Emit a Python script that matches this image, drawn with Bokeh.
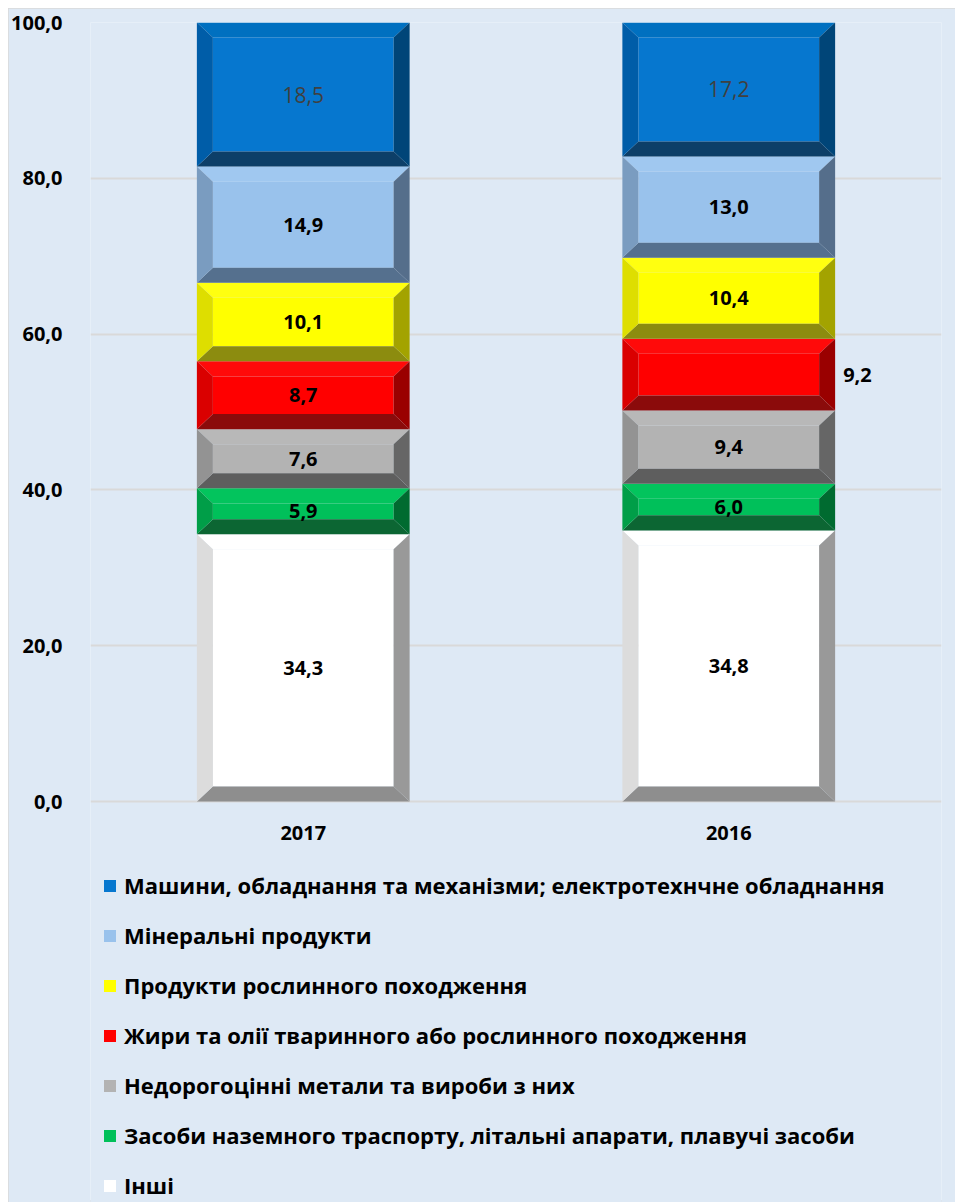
from bokeh.plotting import figure
from bokeh.models import Range1d, FixedTicker, Legend, LegendItem
from bokeh.core.properties import value
from bokeh.embed import file_html
from bokeh.resources import INLINE

# ---------------- data ----------------
years = ["2017", "2016"]
# stack order, bottom to top
series_names = [
    "Інші",
    "Засоби наземного траспорту, літальні апарати, плавучі засоби",
    "Недорогоцінні метали та вироби з них",
    "Жири та олії тваринного або рослинного походження",
    "Продукти рослинного походження",
    "Мінеральні продукти",
    "Машини, обладнання та механізми; електротехнчне обладнання",
]
other = [34.3, 34.8]
transport = [5.9, 6.0]
metals = [7.6, 9.4]
fats = [8.7, 9.2]
plants = [10.1, 10.4]
minerals = [14.9, 13.0]
machines = [18.5, 17.2]
series_values = [other, transport, metals, fats, plants, minerals, machines]
y_ticks = [0, 20, 40, 60, 80, 100]

# ---------------- styles ----------------
# (face, top bevel, left bevel, right bevel, bottom bevel)
palettes = [
    ("#FFFFFF", "#FFFFFF", "#DCDCDC", "#999999", "#8E8E8E"),
    ("#00C05A", "#03C45D", "#009E48", "#006B30", "#0C6633"),
    ("#B3B3B3", "#B8B8B8", "#939393", "#666666", "#5E5E5E"),
    ("#FF0000", "#FF0A0A", "#DA0000", "#9A0000", "#8B0B0B"),
    ("#FFFF00", "#FFFF10", "#DEDE00", "#A3A300", "#8C8C0F"),
    ("#99C2EC", "#A0C8F0", "#7A9CC0", "#556E8B", "#55708E"),
    ("#0677CF", "#0070C0", "#005DA8", "#004578", "#0D3F68"),
]
BG = "#DEE9F5"
FONT = "Open Sans"
W, H = 947, 1194
BORDER_L, BORDER_R, BORDER_T = 81, 14, 14
PX_PER_UNIT = 7.79            # vertical pixels per percentage point
frame_h = H - BORDER_T
y_min = 100 - frame_h / PX_PER_UNIT   # extra room below 0 for year labels + legend
bar_width = 0.5
bevel_dx = 0.0376   # x units
bevel_dy = 1.93     # y units

p = figure(
    width=W, height=H,
    x_range=Range1d(0, len(years)), y_range=Range1d(y_min, 100),
    x_axis_location=None,
    output_backend="svg", toolbar_location=None,
    min_border_left=BORDER_L, min_border_right=BORDER_R, min_border_top=BORDER_T, min_border_bottom=0,
    background_fill_color=BG, border_fill_color=BG,
)
p.styles = {"outline": "2px solid #D9D9D9", "outline-offset": "-2px",
            "margin-left": "8px", "margin-top": "8px"}
p.outline_line_color = None

p.xgrid.grid_line_color = None
p.ygrid.grid_line_color = "#D9D9D9"
p.ygrid.grid_line_width = 2
p.ygrid.ticker = FixedTicker(ticks=y_ticks)

p.yaxis.ticker = FixedTicker(ticks=y_ticks)
p.yaxis.major_label_overrides = {t: f"{t:.1f}".replace(".", ",") for t in y_ticks}
ax = p.yaxis[0]
ax.axis_line_color = None
ax.major_tick_line_color = None
ax.minor_tick_line_color = None
ax.major_label_text_font = FONT
ax.major_label_text_font_style = "bold"
ax.major_label_text_font_size = "20px"
ax.major_label_text_color = "#000000"
ax.major_label_standoff = 22

legend_items = []
label_x, label_y, label_txt = [], [], []
blue_x, blue_y, blue_txt = [], [], []
out_x, out_y, out_txt = [], [], []

bottoms = [0.0] * len(years)
for si, (name, vals) in enumerate(zip(series_names, series_values)):
    face, topc, leftc, rightc, botc = palettes[si]
    parts = {k: ([], []) for k in ("face", "top", "left", "right", "bottom")}
    for i, v in enumerate(vals):
        b = bottoms[i]
        t = b + v
        c = i + 0.5
        x0, x1 = c - bar_width / 2, c + bar_width / 2
        dx, dy = bevel_dx, bevel_dy
        polys = {
            "face": ([x0 + dx, x1 - dx, x1 - dx, x0 + dx], [b + dy, b + dy, t - dy, t - dy]),
            "top": ([x0, x1, x1 - dx, x0 + dx], [t, t, t - dy, t - dy]),
            "bottom": ([x0, x1, x1 - dx, x0 + dx], [b, b, b + dy, b + dy]),
            "left": ([x0, x0 + dx, x0 + dx, x0], [b, b + dy, t - dy, t]),
            "right": ([x1, x1 - dx, x1 - dx, x1], [b, b + dy, t - dy, t]),
        }
        for k, (px, py) in polys.items():
            parts[k][0].append(px)
            parts[k][1].append(py)
        txt = f"{v:.1f}".replace(".", ",")
        if si == len(series_names) - 1:
            blue_x.append(c); blue_y.append(b + v / 2); blue_txt.append(txt)
        elif si == 3 and i == 1:
            out_x.append(x1); out_y.append(b + v / 2); out_txt.append(txt)
        else:
            label_x.append(c); label_y.append(b + v / 2); label_txt.append(txt)
        bottoms[i] = t
    colors = {"face": face, "top": topc, "left": leftc, "right": rightc, "bottom": botc}
    rends = {}
    for k in ("face", "top", "bottom", "left", "right"):
        rends[k] = p.patches(xs=parts[k][0], ys=parts[k][1], fill_color=colors[k], line_color=None)
    legend_items.append(LegendItem(label=name, renderers=[rends["face"]]))

p.text(x=label_x, y=label_y, text=label_txt, text_align="center", text_baseline="middle",
       text_font=value(FONT), text_font_style="bold", text_font_size="20px", text_color="#000000")
p.text(x=blue_x, y=blue_y, text=blue_txt, text_align="center", text_baseline="middle",
       text_font=value(FONT), text_font_size="21px", text_color="#404040")
p.text(x=out_x, y=out_y, text=out_txt, text_align="left", text_baseline="middle", x_offset=8,
       text_font=value(FONT), text_font_style="bold", text_font_size="20px", text_color="#000000")

# category (year) labels under the bars
p.text(x=[i + 0.5 for i in range(len(years))], y=[0] * len(years), text=years,
       text_align="center", text_baseline="middle", y_offset=31,
       text_font=value(FONT), text_font_style="bold", text_font_size="20px", text_color="#000000")

legend = Legend(items=list(reversed(legend_items)), location=(12, 2), orientation="vertical")
legend.margin = 0
legend.padding = 0
legend.spacing = 20
legend.glyph_width = 15
legend.glyph_height = 15
legend.label_standoff = 7
legend.label_text_font = FONT
legend.label_text_font_style = "bold"
legend.label_text_font_size = "22px"
legend.label_text_color = "#000000"
legend.border_line_color = None
legend.background_fill_alpha = 0
p.add_layout(legend)

open("out.html", "w").write(file_html(p, INLINE))
